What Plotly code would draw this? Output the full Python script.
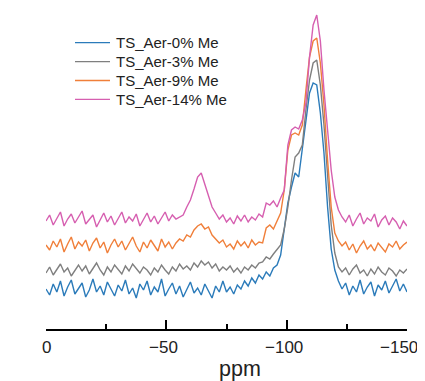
import plotly.graph_objects as go

# chemical shift grid (ppm), 0 to -150 in 1.5 ppm steps
ppm = [-1.5 * i for i in range(101)]

names = ["TS_Aer-0% Me", "TS_Aer-3% Me", "TS_Aer-9% Me", "TS_Aer-14% Me"]
colors = ["#2b7bba", "#7f7f7f", "#f07f3a", "#d65fb0"]

tick_vals = [0, -50, -100, -150]
tick_text = ["0", "\u221250", "\u2212100", "\u2212150"]
minor_vals = [-25, -75, -125]

# stacked intensities (arbitrary units, offset per sample)
me0 = [36, 30, 41, 33, 44, 29, 38, 45, 31, 37,
       42, 28, 35, 46, 33, 39, 30, 43, 36, 29,
       40, 34, 45, 31, 37, 27, 41, 35, 44, 30,
       38, 33, 46, 29, 36, 42, 31, 39, 28, 35,
       43, 32, 37, 30, 41, 34, 27, 39, 33, 44,
       33, 38, 31, 40, 36, 44, 39, 47, 42, 50,
       46, 53, 49, 57, 60, 70, 95, 122, 138, 152,
       148, 178, 205, 232, 242, 240, 212, 172, 118, 76,
       55, 44, 36, 42, 30, 39, 33, 45, 31, 38,
       43, 29, 40, 35, 44, 32, 39, 46, 34, 41, 33]

me3 = [52, 58, 50, 56, 61, 53, 57, 49, 55, 60,
       54, 59, 51, 57, 62, 55, 50, 58, 53, 60,
       56, 51, 59, 54, 61, 57, 52, 58, 55, 50,
       57, 53, 60, 55, 51, 58, 54, 61, 56, 59,
       55, 62, 58, 64, 60, 63, 57, 61, 54, 58,
       55, 59, 53, 57, 52, 58, 55, 60, 57, 62,
       63, 68, 66, 71, 75, 80, 96, 118, 145, 168,
       172, 180, 215, 245, 262, 265, 240, 200, 150, 100,
       72, 58, 53, 57, 50, 56, 60, 52, 55, 49,
       56, 51, 58, 53, 50, 57, 54, 49, 55, 52, 56]

me9 = [80, 75, 84, 78, 86, 73, 81, 88, 76, 83,
       79, 85, 74, 82, 87, 77, 83, 72, 80, 86,
       78, 84, 75, 81, 88, 79, 73, 83, 77, 85,
       80, 74, 86, 78, 83, 76, 82, 86, 84, 90,
       88, 95, 99, 101, 96, 98, 90, 86, 82, 85,
       78, 81, 76, 84, 79, 83, 77, 85, 80, 83,
       82, 97, 100, 96, 104, 112, 135, 175, 190, 192,
       190, 200, 235, 268, 284, 287, 262, 220, 165, 118,
       92, 84, 79, 83, 75, 81, 72, 79, 84, 76,
       80, 74, 82, 77, 73, 81, 78, 84, 76, 80, 83]

me14 = [104, 110, 100, 107, 113, 99, 106, 111, 102, 108,
        114, 101, 106, 110, 98, 105, 112, 103, 109, 100,
        107, 113, 102, 108, 104, 111, 99, 106, 112, 103,
        109, 101, 107, 113, 104, 110, 106, 108, 110, 118,
        125, 136, 148, 152, 140, 128, 118, 112, 106, 110,
        103, 107, 101, 109, 104, 110, 103, 108, 105, 111,
        108, 122, 120, 124, 118, 127, 135, 180, 195, 198,
        196, 205, 222, 268, 300, 310, 284, 235, 195, 155,
        128, 115, 108, 103, 110, 99, 106, 112, 101, 107,
        104, 111, 98, 105, 109, 100, 107, 103, 96, 104, 99]

series = [me0, me3, me9, me14]

# the page body adds an 8 px margin, so the figure is drawn 8 px smaller
OFF = 8
W, H = 425 - OFF, 381 - OFF
L, R, T, B = 38, 18, 2, 52
pw, ph = W - L - R, H - T - B


def px_x(x):
    return (x - OFF - L) / pw


def px_y(y):
    return (H - B - (y - OFF)) / ph


FONT = "Liberation Sans, Arial, sans-serif"

fig = go.Figure()
for name, color, vals in zip(names, colors, series):
    fig.add_trace(go.Scatter(x=ppm, y=vals, mode="lines", name=name,
                             showlegend=False,
                             line=dict(color=color, width=1.4)))

shapes = []
annotations = []
# hand-built legend (line sample + label)
for k, (name, color) in enumerate(zip(names, colors)):
    yy = 42.7 + k * 18.9
    shapes.append(dict(type="line", xref="paper", yref="paper",
                       x0=px_x(75), x1=px_x(110), y0=px_y(yy), y1=px_y(yy),
                       line=dict(color=color, width=1.3)))
    annotations.append(dict(text=name, xref="paper", yref="paper",
                            x=px_x(114), y=px_y(yy), xanchor="left",
                            yanchor="middle", showarrow=False,
                            font=dict(size=15, color="#222", family=FONT)))

# tick labels
for v, t in zip(tick_vals, tick_text):
    last = v == tick_vals[-1]
    annotations.append(dict(text=t, xref="x", yref="paper", x=v,
                            y=px_y(347),
                            xanchor="right" if last else "center",
                            xshift=13 if last else (0 if v == 0 else -3),
                            yanchor="middle", showarrow=False,
                            font=dict(size=17, color="#222", family=FONT)))
annotations.append(dict(text="ppm", xref="paper", yref="paper",
                        x=px_x(240), y=px_y(369), xanchor="center",
                        yanchor="middle", showarrow=False,
                        font=dict(size=21.5, color="#222", family=FONT)))

fig.update_layout(
    width=W, height=H,
    margin=dict(l=L, r=R, t=T, b=B),
    paper_bgcolor="white", plot_bgcolor="white",
    font=dict(family=FONT, color="#222"),
    showlegend=False,
    shapes=shapes,
    annotations=annotations,
    xaxis=dict(range=[0, -150], showgrid=False, zeroline=False,
               automargin=False,
               showline=True, linecolor="black", linewidth=2,
               ticks="inside", ticklen=9, tickwidth=2, tickcolor="black",
               tickvals=tick_vals, showticklabels=False,
               minor=dict(ticks="inside", ticklen=5, tickwidth=2,
                          tickcolor="black", tickvals=minor_vals)),
    yaxis=dict(visible=False, range=[-4, ph - 4], fixedrange=True,
               automargin=False),
)

fig.write_html("out.html")
